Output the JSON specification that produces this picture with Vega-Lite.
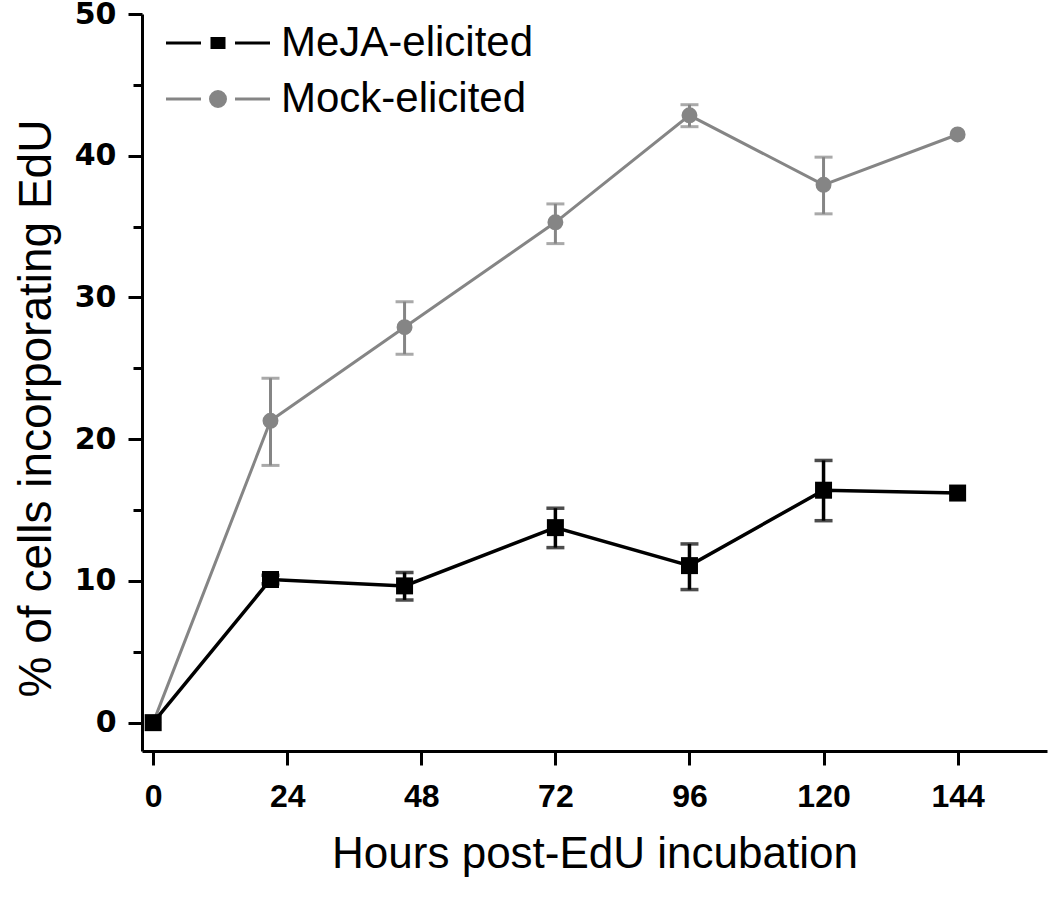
{
  "$schema": "https://vega.github.io/schema/vega-lite/v6.json",
  "width": 905,
  "height": 737,
  "autosize": "none",
  "padding": {"left": 142, "top": 14, "right": 3, "bottom": 170},
  "background": "white",
  "config": {
    "view": {"stroke": null},
    "axis": {
      "domainColor": "black", "domainWidth": 3, "tickColor": "black", "tickWidth": 3, "tickSize": 14,
      "grid": false, "labelColor": "black", "titleColor": "black",
      "titleFont": "Liberation Sans", "titleFontWeight": "normal", "titleFontSize": 44
    }
  },
  "data": {
    "values": [
      {"series": "Mock-elicited", "hours": 0, "pct": 0, "lo": 0, "hi": 0},
      {"series": "Mock-elicited", "hours": 21, "pct": 21.3, "lo": 18.15, "hi": 24.3},
      {"series": "Mock-elicited", "hours": 45, "pct": 27.9, "lo": 26.0, "hi": 29.7},
      {"series": "Mock-elicited", "hours": 72, "pct": 35.3, "lo": 33.8, "hi": 36.6},
      {"series": "Mock-elicited", "hours": 96, "pct": 42.85, "lo": 42.05, "hi": 43.6},
      {"series": "Mock-elicited", "hours": 120, "pct": 37.95, "lo": 35.9, "hi": 39.9},
      {"series": "Mock-elicited", "hours": 144, "pct": 41.5, "lo": 41.5, "hi": 41.5},
      {"series": "MeJA-elicited", "hours": 0, "pct": 0, "lo": 0, "hi": 0},
      {"series": "MeJA-elicited", "hours": 21, "pct": 10.1, "lo": 9.8, "hi": 10.4},
      {"series": "MeJA-elicited", "hours": 45, "pct": 9.65, "lo": 8.66, "hi": 10.6},
      {"series": "MeJA-elicited", "hours": 72, "pct": 13.76, "lo": 12.35, "hi": 15.13},
      {"series": "MeJA-elicited", "hours": 96, "pct": 11.08, "lo": 9.39, "hi": 12.61},
      {"series": "MeJA-elicited", "hours": 120, "pct": 16.4, "lo": 14.25, "hi": 18.5},
      {"series": "MeJA-elicited", "hours": 144, "pct": 16.2, "lo": 16.2, "hi": 16.2}
    ]
  },
  "resolve": {"axis": {"y": "independent"}},
  "layer": [
    {
      "transform": [{"filter": "datum.series === 'Mock-elicited' && datum.hi > datum.lo"}],
      "mark": {"type": "errorbar", "ticks": {"size": 18}, "thickness": 3, "color": "#858585"},
      "encoding": {
        "x": {"field": "hours", "type": "quantitative", "scale": {"domain": [-2, 160], "nice": false, "zero": false},
          "axis": {"values": [0, 24, 48, 72, 96, 120, 144], "labelFont": "Liberation Sans", "labelFontWeight": "bold",
            "labelFontSize": 32, "labelPadding": 16, "title": "Hours post-EdU incubation", "titlePadding": 20}},
        "y": {"field": "lo", "type": "quantitative", "scale": {"domain": [-2, 50], "nice": false, "zero": false},
          "axis": {"orient": "left", "values": [0, 10, 20, 30, 40, 50], "labelFont": "DejaVu Sans", "labelFontWeight": "bold", "labelFontSize": 30,
            "labelPadding": 12, "title": "% of cells incorporating EdU", "titleFontSize": 46, "titlePadding": 14, "titleY": 394}},
        "y2": {"field": "hi"}
      }
    },
    {
      "transform": [{"filter": "datum.series === 'Mock-elicited'"}],
      "mark": {"type": "line", "color": "#858585", "strokeWidth": 3},
      "encoding": {
        "x": {"field": "hours", "type": "quantitative"},
        "y": {"field": "pct", "type": "quantitative",
          "axis": {"orient": "left", "values": [5, 15, 25, 35, 45], "labels": false, "domain": false, "tickSize": 9, "title": null}}
      }
    },
    {
      "transform": [{"filter": "datum.series === 'Mock-elicited'"}],
      "mark": {"type": "point", "shape": "circle", "filled": true, "size": 254, "opacity": 1},
      "encoding": {
        "x": {"field": "hours", "type": "quantitative"},
        "y": {"field": "pct", "type": "quantitative", "axis": null},
        "color": {"field": "series", "type": "nominal",
          "scale": {"domain": ["MeJA-elicited", "Mock-elicited"], "range": ["#000000", "#858585"]},
          "legend": {
            "title": null, "orient": "none", "legendX": 55, "legendY": 8, "padding": 0, "rowPadding": 14,
            "labelFont": "Liberation Sans", "labelFontSize": 42, "labelColor": "black", "labelOffset": 42, "labelLimit": 0,
            "symbolSize": 400, "symbolStrokeWidth": 3,
            "symbolType": {"expr": "datum.value === 'MeJA-elicited' ? 'M-5.2,0H-1.7M1.7,0H5.2M-0.6,-0.45H0.6V0.45H-0.6Z' : 'M-5.2,0H-1.7M1.7,0H5.2M-0.75,0A0.75,0.75 0 1,0 0.75,0A0.75,0.75 0 1,0 -0.75,0Z'"},
            "symbolStrokeColor": {"expr": "datum.value === 'MeJA-elicited' ? '#000000' : '#858585'"},
            "symbolFillColor": {"expr": "datum.value === 'MeJA-elicited' ? '#000000' : '#858585'"},
            "symbolOpacity": 1
          }}
      }
    },
    {
      "transform": [{"filter": "datum.series === 'MeJA-elicited' && datum.hi > datum.lo"}],
      "mark": {"type": "errorbar", "ticks": {"size": 18}, "thickness": 3.5, "color": "#000000"},
      "encoding": {
        "x": {"field": "hours", "type": "quantitative"},
        "y": {"field": "lo", "type": "quantitative", "axis": null},
        "y2": {"field": "hi"}
      }
    },
    {
      "transform": [{"filter": "datum.series === 'MeJA-elicited'"}],
      "mark": {"type": "line", "color": "#000000", "strokeWidth": 3.5},
      "encoding": {
        "x": {"field": "hours", "type": "quantitative"},
        "y": {"field": "pct", "type": "quantitative", "axis": null}
      }
    },
    {
      "transform": [{"filter": "datum.series === 'MeJA-elicited'"}],
      "mark": {"type": "point", "shape": "square", "filled": true, "size": 289, "opacity": 1},
      "encoding": {
        "x": {"field": "hours", "type": "quantitative"},
        "y": {"field": "pct", "type": "quantitative", "axis": null},
        "color": {"field": "series", "type": "nominal"}
      }
    }
  ]
}
